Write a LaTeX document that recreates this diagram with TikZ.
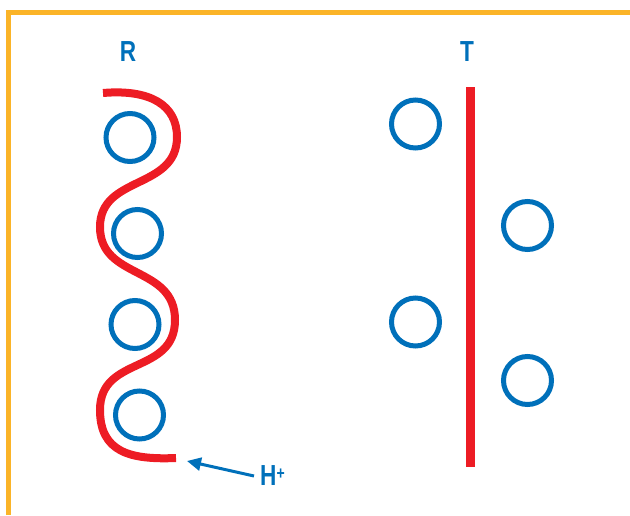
\documentclass[tikz,border=0pt]{standalone}
\usepackage{fontspec}
\setmainfont{Liberation Sans}
\newfontfamily\labfont[FakeStretch=0.78]{Liberation Sans Bold}
\usetikzlibrary{arrows.meta}
\definecolor{frameor}{RGB}{251,180,40}
\definecolor{ionblue}{RGB}{0,112,186}
\definecolor{chainred}{RGB}{237,28,36}
\tikzset{
  ion/.style={circle,draw=ionblue,line width=5pt,minimum size=48pt,inner sep=0pt},
  chain/.style={draw=chainred,line width=8pt},
  lab/.style={text=ionblue,font=\labfont\fontsize{29}{30}\selectfont,inner sep=0pt},
}
\begin{document}
\begin{tikzpicture}[x=1pt,y=-1pt]
\useasboundingbox (0,0) rectangle (630,515);
% frame
\draw[frameor,line width=5pt] (8.5,515) -- (8.5,12.5) -- (630,12.5);
% labels
\node[lab] (labR) at (128,52) {R};
\node[lab] (labT) at (467,52) {T};
% R form chain
\draw[chain] (103,93) .. controls (150,89) and (177,105) .. (177,137)
  .. controls (177,190) and (100,175) .. (100,227)
  .. controls (100,280) and (175,265) .. (175,320)
  .. controls (175,375) and (100,355) .. (100,410)
  .. controls (100,452) and (130,460) .. (176,458);
\node[ion] (r1) at (130,137.5) {};
\node[ion] (r2) at (137.5,233.5) {};
\node[ion] (r3) at (135,324.5) {};
\node[ion] (r4) at (139.5,415) {};
% T form chain
\draw[chainred,line width=9pt] (470,87) -- (470,467);
\node[ion] (t1) at (415.5,124) {};
\node[ion] (t2) at (527.5,225.5) {};
\node[ion] (t3) at (415.5,322) {};
\node[ion] (t4) at (527.5,380.5) {};
% H+
\node[lab,anchor=west] (hplus) at (260,476) {H\raisebox{6pt}{\fontsize{18}{18}\selectfont+}};
\coordinate (rend) at (187,461);
\draw[ionblue,line width=3pt,-{Triangle[length=14pt,width=13pt]}] (hplus.west) ++(-6,0) -- (rend);
\end{tikzpicture}
\end{document}
